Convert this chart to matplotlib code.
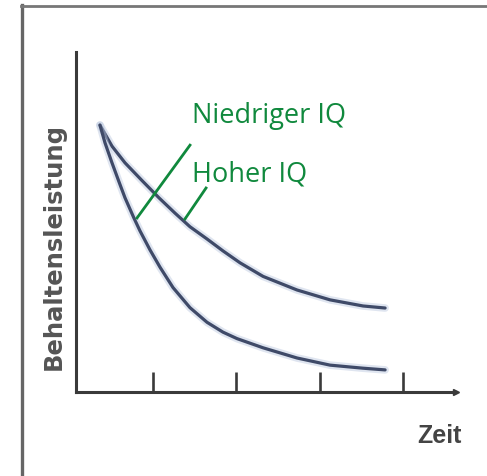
import matplotlib
matplotlib.use("Agg")
import matplotlib.pyplot as plt
from matplotlib.lines import Line2D

# ---- data ----
ticks_x = [1, 2, 3, 4]
hoch_x = [0.367, 0.511, 0.667, 0.870, 1.074, 1.266, 1.445, 1.649, 1.840, 2.044,
          2.320, 2.727, 3.122, 3.517, 3.781]
hoch_y = [7.85, 7.23, 6.74, 6.22, 5.71, 5.26, 4.86, 4.50, 4.15, 3.80,
          3.40, 3.00, 2.71, 2.53, 2.47]
nied_x = [0.367, 0.427, 0.511, 0.595, 0.667, 0.775, 0.846, 0.966, 1.086, 1.242,
          1.445, 1.649, 1.840, 2.008, 2.320, 2.727, 3.122, 3.517, 3.781]
nied_y = [7.85, 7.33, 6.74, 6.18, 5.71, 5.11, 4.74, 4.18, 3.67, 3.07,
          2.48, 2.05, 1.76, 1.57, 1.30, 1.00, 0.79, 0.70, 0.65]
label_nied = "Niedriger IQ"
label_hoch = "Hoher IQ"
xlabel = "Zeit"
ylabel = "Behaltensleistung"

W, H = 487, 476
fig = plt.figure(figsize=(W / 100, H / 100), dpi=100)
fig.patch.set_facecolor("white")

# outer frame of the screenshot
fig.add_artist(Line2D([22 / W, 22 / W], [0, 1 - 5 / H], color="#666666", lw=2.4, transform=fig.transFigure))
fig.add_artist(Line2D([21 / W, 1], [1 - 6 / H, 1 - 6 / H], color="#777777", lw=2.0, transform=fig.transFigure))

ax = fig.add_axes([76 / W, 1 - 392 / H, 380 / W, 340 / H])
ax.set_xlim(0.08, 4.63)
ax.set_ylim(0, 10)
ax.patch.set_alpha(0)
for s in ["top", "right"]:
    ax.spines[s].set_visible(False)
for s in ["left", "bottom"]:
    ax.spines[s].set_color("#3a3a3a")
    ax.spines[s].set_linewidth(2.2)
ax.set_yticks([])
ax.set_xticks(ticks_x)
ax.set_xticklabels([])
ax.tick_params(axis="x", direction="in", length=14.5, width=1.9, color="#3a3a3a")
ax.plot([1.0], [0], marker=">", ms=5, color="#3a3a3a", transform=ax.transAxes, clip_on=False)

curve_col = "#3f4a68"
for xs, ys in [(hoch_x, hoch_y), (nied_x, nied_y)]:
    ax.plot(xs, ys, color="#b9c6de", lw=5.5, alpha=0.45,
            solid_capstyle="round", solid_joinstyle="round")
    ax.plot(xs, ys, color=curve_col, lw=2.3,
            solid_capstyle="round", solid_joinstyle="round")

green = "#10893d"
# leader lines from labels to curves
ax.plot([0.811, 1.445], [5.12, 7.26], color=green, lw=2.0)
ax.plot([1.385, 1.637], [5.09, 6.00], color=green, lw=2.0)

fig.text(192 / W, 1 - 123 / H, label_nied, color=green, fontsize=19.5,
         family="Open Sans", ha="left", va="baseline")
fig.text(192 / W, 1 - 182 / H, label_hoch, color=green, fontsize=19.5,
         family="Open Sans", ha="left", va="baseline")

fig.text(54 / W, 1 - 246 / H, ylabel, rotation=90, ha="center", va="center",
         fontsize=17.5, fontweight="bold", family="DejaVu Sans", color="#555555")
fig.text(439 / W, 1 - 436 / H, xlabel, ha="center", va="center",
         fontsize=18, fontweight="bold", family="Liberation Sans",
         color="#444444")

fig.savefig("out.png", dpi=100, facecolor="white")
